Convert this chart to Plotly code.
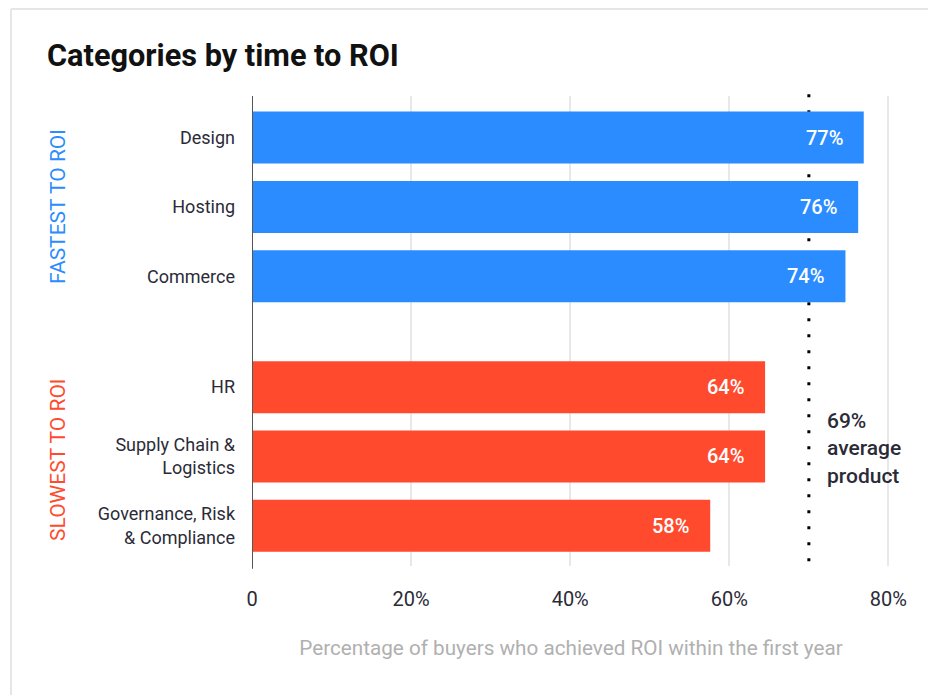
import plotly.graph_objects as go

categories = ["Design", "Hosting", "Commerce", "HR", "Supply Chain &<br>Logistics", "Governance, Risk<br>& Compliance"]
values = [76.9, 76.2, 74.6, 64.5, 64.5, 57.6]
value_labels = ["77%", "76%", "74%", "64%", "64%", "58%"]
groups = ["fast", "fast", "fast", "slow", "slow", "slow"]
y_positions = [0, 1, 2, 3.6, 4.6, 5.6]
x_tickvals = [0, 20, 40, 60, 80]
x_ticktext = ["0", "20%", "40%", "60%", "80%"]
average_label = "69%<br>average<br>product"
average_line_x = 70

BLUE = "#2B8CFF"
RED = "#FF4A2E"
colors = [BLUE if g == "fast" else RED for g in groups]
FONT = "Roboto"
DARK = "#2b2b38"

# page has an 8px body margin; figure coords = page coords - 8
OFF = 8
W, H = 936 - OFF, 695 - OFF
L, T = 252 - OFF, 96 - OFF
R = W - (890 - OFF)
B = H - (566 - OFF)
pw, ph = W - L - R, H - T - B

fig = go.Figure()
fig.add_trace(go.Bar(
    x=values, y=y_positions, orientation="h",
    marker=dict(color=colors, line=dict(width=0)),
    width=0.75, hoverinfo="skip", showlegend=False,
))

for v, y, t in zip(values, y_positions, value_labels):
    fig.add_annotation(x=v, y=y, text=t, showarrow=False, xanchor="right", xshift=-19,
                       font=dict(family=FONT, size=20, color="white", weight=500))

# average line (behind the bars)
fig.add_shape(type="line", x0=average_line_x, x1=average_line_x, yref="paper", y0=0.01, y1=1.005,
              layer="below", line=dict(color="black", width=3, dash="3px,13px"))
fig.add_annotation(x=average_line_x, y=4.48, text=average_label, showarrow=False, xanchor="left",
                   xshift=16, align="left",
                   font=dict(family=FONT, size=21, color=DARK, weight=500))

# group labels
gx = (58 - OFF - L) / pw
fig.add_annotation(xref="paper", yref="y", x=gx, y=1, text="FASTEST TO ROI", textangle=-90,
                   xanchor="center", yanchor="middle",
                   showarrow=False, font=dict(family=FONT, size=21, color=BLUE))
fig.add_annotation(xref="paper", yref="y", x=gx, y=4.65, text="SLOWEST TO ROI", textangle=-90,
                   xanchor="center", yanchor="middle",
                   showarrow=False, font=dict(family=FONT, size=21, color=RED))

# border (top & left)
bx0 = (11 - OFF - L) / pw
by_top = (H - B - 1) / ph
fig.add_shape(type="line", xref="paper", yref="paper", x0=bx0, x1=(W - L + 5) / pw, y0=by_top, y1=by_top,
              line=dict(color="#e6e6e6", width=2))
fig.add_shape(type="line", xref="paper", yref="paper", x0=bx0, x1=bx0, y0=by_top, y1=-(B + 5) / ph,
              line=dict(color="#e6e6e6", width=2))

fig.update_layout(
    width=W, height=H,
    margin=dict(l=L, r=R, t=T, b=B),
    plot_bgcolor="white", paper_bgcolor="white",
    title=dict(text="<b>Categories by time to ROI</b>", x=(47 - OFF) / W, xanchor="left",
               y=1 - (55 - OFF) / H, yanchor="middle",
               font=dict(family=FONT, size=30.7, color="#111111")),
    xaxis=dict(range=[0, 80.2], tickvals=x_tickvals, ticktext=x_ticktext,
               showgrid=True, gridcolor="#e8e8e8", gridwidth=2, zeroline=False,
               ticks="", ticklabelstandoff=19, tickfont=dict(family=FONT, size=20, color=DARK),
               title=dict(text="Percentage of buyers who achieved ROI within the first year",
                          font=dict(family=FONT, size=20.7, color="#b0b0b0"), standoff=30),
               showline=False, fixedrange=True),
    yaxis=dict(range=[6.18, -0.6], tickvals=y_positions, ticktext=categories,
               showgrid=False, zeroline=False, ticks="", ticklabelstandoff=16,
               tickfont=dict(family=FONT, size=18, color=DARK),
               showline=False, fixedrange=True),
)
# left axis line
fig.add_shape(type="line", x0=0, x1=0, yref="paper", y0=-0.006, y1=1.0,
              line=dict(color="#555555", width=2))

fig.write_html("out.html")
